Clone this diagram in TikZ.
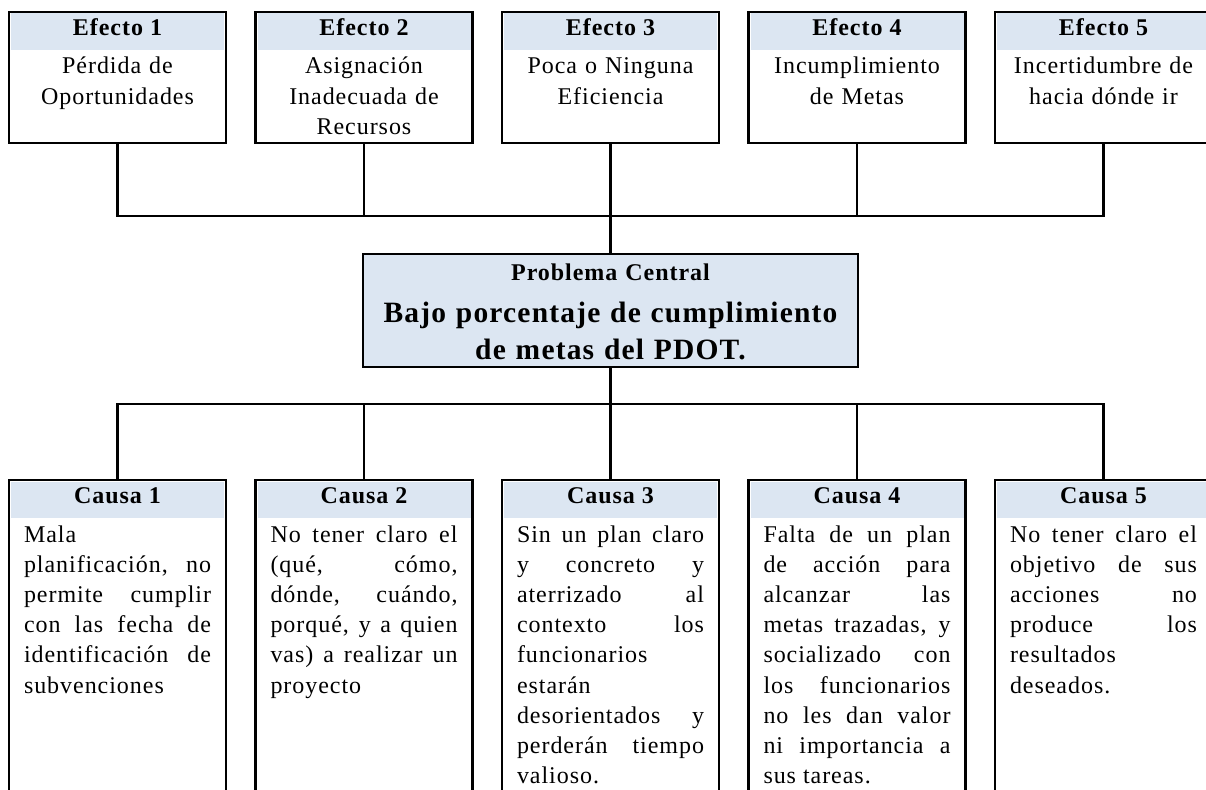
\documentclass[tikz,border=0pt]{standalone}
\usepackage{fontspec}
\setmainfont{Liberation Serif}[LetterSpace=4]
\definecolor{headblue}{HTML}{DCE6F2}
\tolerance=10000
\hbadness=10000
\hyphenpenalty=10000

\begin{document}
\begin{tikzpicture}[
    x=1pt, y=-1pt,
    box/.style={rectangle, draw=black, line width=2.6pt, fill=white,
                minimum width=217pt, inner sep=0pt},
    effbox/.style={box, minimum height=131pt},
    causebox/.style={box, minimum height=320pt},
    headband/.style={rectangle, fill=headblue, minimum width=213pt,
                     minimum height=36.5pt, inner sep=0pt, text height=16pt,
                     font=\bfseries\fontsize{24}{29}\selectfont},
    effhead/.style={headband, text depth=7.5pt},
    causehead/.style={headband, text depth=9.5pt},
    efftext/.style={anchor=base, text width=205pt, align=center, inner sep=0pt,
                    font=\fontsize{24}{30.2}\selectfont},
    causetext/.style={anchor=base, text width=187pt, align=justify, inner sep=0pt,
                      font=\fontsize{24}{30.2}\selectfont},
    probbox/.style={rectangle, draw=black, line width=2.6pt, fill=headblue,
                    minimum width=495pt, minimum height=113pt, inner sep=0pt},
    probtitle/.style={anchor=base, text width=480pt, align=center, inner sep=0pt,
                      font=\bfseries\fontsize{24}{29}\selectfont},
    probtext/.style={anchor=base, text width=480pt, align=center, inner sep=0pt,
                     font=\bfseries\fontsize{29.5}{37}\selectfont},
    conn/.style={line width=2.3pt, black},
]

\clip (0,0) rectangle (1206,789);
\fill[white] (0,0) rectangle (1206,789);

% --- Effect boxes ---
\node[effbox] (e1) at (117.5, 77.5) {};
\node[effbox] (e2) at (364, 77.5)   {};
\node[effbox] (e3) at (610.5, 77.5) {};
\node[effbox] (e4) at (857, 77.5)   {};
\node[effbox] (e5) at (1103.5, 77.5) {};

\node[effhead] (e1h) at (117.5, 31.75)  {Efecto 1};
\node[effhead] (e2h) at (364, 31.75)    {Efecto 2};
\node[effhead] (e3h) at (610.5, 31.75)  {Efecto 3};
\node[effhead] (e4h) at (857, 31.75)    {Efecto 4};
\node[effhead] (e5h) at (1103.5, 31.75) {Efecto 5};

\node[efftext] (e1t) at (117.5, 74)  {Pérdida de\\Oportunidades};
\node[efftext] (e2t) at (364, 74)    {Asignación\\Inadecuada de\\Recursos};
\node[efftext] (e3t) at (610.5, 74)  {Poca o Ninguna\\Eficiencia};
\node[efftext] (e4t) at (857, 74)    {Incumplimiento\\de Metas};
\node[efftext] (e5t) at (1103.5, 74) {Incertidumbre de\\hacia dónde ir};

% --- Central problem ---
\node[probbox] (prob) at (610.5, 310.5) {};
\node[probtitle] (probt) at (610.5, 280) {Problema Central};
\node[probtext] (probm) at (610.5, 322) {Bajo porcentaje de cumplimiento\\de metas del PDOT.};

% --- Cause boxes ---
\node[causebox] (c1) at (117.5, 640)  {};
\node[causebox] (c2) at (364, 640)    {};
\node[causebox] (c3) at (610.5, 640)  {};
\node[causebox] (c4) at (857, 640)    {};
\node[causebox] (c5) at (1103.5, 640) {};

\node[causehead] (c1h) at (117.5, 499.75)  {Causa 1};
\node[causehead] (c2h) at (364, 499.75)    {Causa 2};
\node[causehead] (c3h) at (610.5, 499.75)  {Causa 3};
\node[causehead] (c4h) at (857, 499.75)    {Causa 4};
\node[causehead] (c5h) at (1103.5, 499.75) {Causa 5};

\node[causetext] (c1t) at (117.5, 542) {Mala\linebreak
  planificación, no\linebreak permite cumplir\linebreak con las fecha de\linebreak
  identificación de\linebreak subvenciones};
\node[causetext] (c2t) at (364, 542) {No tener claro el\linebreak
  (qué, cómo,\linebreak dónde, cuándo,\linebreak porqué, y a quien\linebreak
  vas) a realizar un\linebreak proyecto};
\node[causetext] (c3t) at (610.5, 542) {Sin un plan claro\linebreak
  y concreto y\linebreak aterrizado al\linebreak contexto los\linebreak
  funcionarios\linebreak estarán\linebreak desorientados y\linebreak
  perderán tiempo\linebreak valioso.};
\node[causetext] (c4t) at (857, 542) {Falta de un plan\linebreak
  de acción para\linebreak alcanzar las\linebreak metas trazadas, y\linebreak
  socializado con\linebreak los funcionarios\linebreak no les dan valor\linebreak
  ni importancia a\linebreak sus tareas.};
\node[causetext] (c5t) at (1103.5, 542) {No tener claro el\linebreak
  objetivo de sus\linebreak acciones no\linebreak produce los\linebreak
  resultados\linebreak deseados.};

% --- Effect connectors ---
\coordinate (ebar) at (610.5, 216);
\draw[conn] (e1.south) |- (ebar) -| (e5.south);
\draw[conn] (e2.south) -- (e2.south |- ebar);
\draw[conn] (e4.south) -- (e4.south |- ebar);
\draw[conn] (e3.south) -- (prob.north);

% --- Cause connectors ---
\coordinate (cbar) at (610.5, 404);
\draw[conn] (c1.north) |- (cbar) -| (c5.north);
\draw[conn] (c2.north) -- (c2.north |- cbar);
\draw[conn] (c4.north) -- (c4.north |- cbar);
\draw[conn] (prob.south) -- (c3.north);

\end{tikzpicture}
\end{document}
